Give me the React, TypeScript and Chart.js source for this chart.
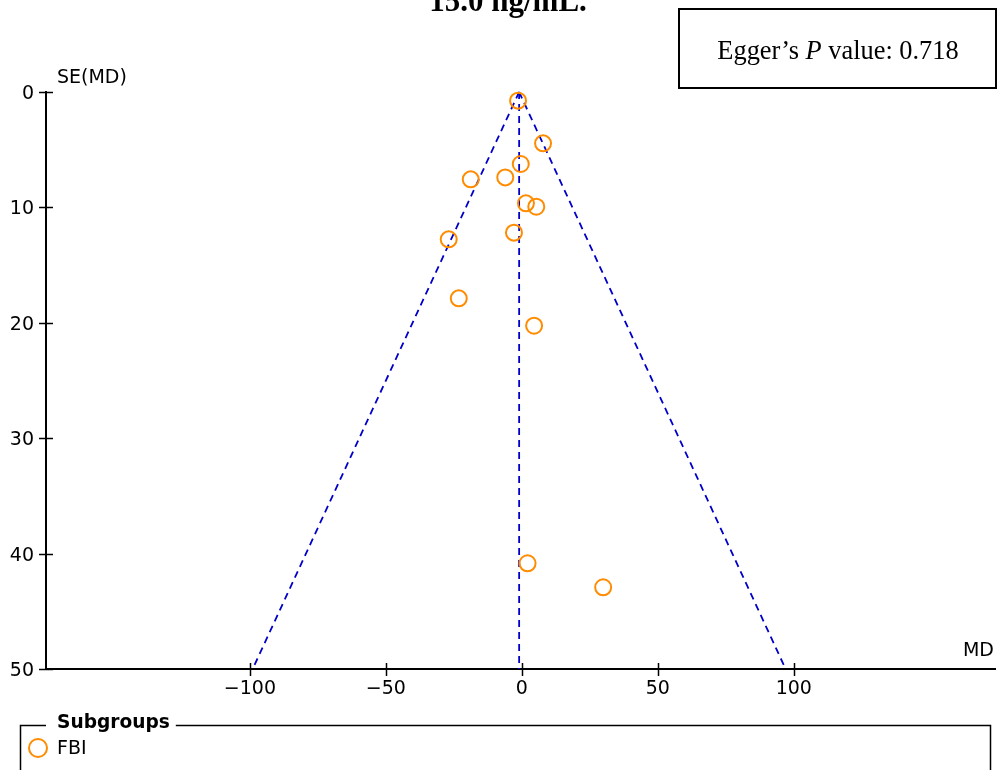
import React, { useEffect, useRef } from "react";
import { Chart, registerables } from "chart.js";

Chart.register(...registerables);

// ---- Data ----
const titleText = "15.0 ng/mL.";
const eggerPrefix = "Egger’s ";
const eggerItalic = "P";
const eggerSuffix = " value: 0.718";
const legendTitle = "Subgroups";
const subgroupNames = ["FBI"];
const xAxisLabel = "MD";
const yAxisLabel = "SE(MD)";

const mdValues = [-1.4, 7.8, -0.4, -18.8, -6.1, 1.5, 5.3, -2.9, -26.9, -23.2, 4.5, 2.1, 29.9];
const seValues = [0.75, 4.45, 6.24, 7.57, 7.4, 9.65, 9.94, 12.19, 12.77, 17.88, 20.25, 40.84, 42.92];

const xTickValues = [-100, -50, 0, 50, 100];
const yTickValues = [0, 10, 20, 30, 40, 50];
const xMin = -175;
const xMax = 174;
const seMin = 0;
const seMax = 50;
const pooledMD = -1.0;
const zCrit = 1.96;

// ---- Styles ----
const ORANGE = "#FF8C00";
const BLUE = "#0000C8";
const SANS = "'DejaVu Sans', sans-serif";
const SERIF = "'Liberation Serif', 'Times New Roman', serif";

const fmt = (v: number) => String(v).replace("-", "\u2212");

const decorPlugin = {
  id: "decor",
  afterDraw(chart: any) {
    const ctx = chart.ctx as CanvasRenderingContext2D;
    const xs = chart.scales.x;
    const ys = chart.scales.y;
    const area = chart.chartArea;
    ctx.save();
    ctx.strokeStyle = "#000";
    ctx.fillStyle = "#000";
    ctx.lineWidth = 1.5;
    // crossing tick marks
    xs.ticks.forEach((t: any) => {
      const px = Math.round(xs.getPixelForValue(t.value)) + 0.5;
      ctx.beginPath();
      ctx.moveTo(px, area.bottom - 6);
      ctx.lineTo(px, area.bottom + 7);
      ctx.stroke();
    });
    ys.ticks.forEach((t: any) => {
      const py = Math.round(ys.getPixelForValue(t.value)) + 0.5;
      ctx.beginPath();
      ctx.moveTo(area.left - 7, py);
      ctx.lineTo(area.left + 7, py);
      ctx.stroke();
    });
    // axis titles
    ctx.font = `19px ${SANS}`;
    ctx.textBaseline = "middle";
    ctx.textAlign = "right";
    ctx.fillText(xAxisLabel, area.right - 1, area.bottom - 18);
    ctx.textAlign = "left";
    ctx.fillText(yAxisLabel, area.left + 11, area.top - 14);

    // title
    ctx.font = `bold 31px ${SERIF}`;
    ctx.textAlign = "center";
    ctx.textBaseline = "alphabetic";
    ctx.fillText(titleText, 508, 11);

    // Egger box
    ctx.lineWidth = 2;
    ctx.strokeRect(679, 9, 317, 79);
    const eggerFont = `26.4px ${SERIF}`;
    const eggerItalicFont = `italic 26.4px ${SERIF}`;
    ctx.font = eggerFont;
    const w1 = ctx.measureText(eggerPrefix).width;
    const w3 = ctx.measureText(eggerSuffix).width;
    ctx.font = eggerItalicFont;
    const w2 = ctx.measureText(eggerItalic).width;
    const total = w1 + w2 + w3;
    const x0 = 838 - total / 2;
    const by = 59;
    ctx.textAlign = "left";
    ctx.font = eggerFont;
    ctx.fillText(eggerPrefix, x0, by);
    ctx.font = eggerItalicFont;
    ctx.fillText(eggerItalic, x0 + w1, by);
    ctx.font = eggerFont;
    ctx.fillText(eggerSuffix, x0 + w1 + w2, by);

    // legend box
    ctx.lineWidth = 1.5;
    const lx = 20.5, ly = 725.5, rx = 990.5;
    ctx.font = `bold 18.6px ${SANS}`;
    const tw = ctx.measureText(legendTitle).width;
    ctx.beginPath();
    ctx.moveTo(lx, 780);
    ctx.lineTo(lx, ly);
    ctx.lineTo(46, ly);
    ctx.moveTo(57 + tw + 6, ly);
    ctx.lineTo(rx, ly);
    ctx.lineTo(rx, 780);
    ctx.stroke();
    ctx.textBaseline = "middle";
    ctx.fillText(legendTitle, 57, 723);
    ctx.font = `19px ${SANS}`;
    subgroupNames.forEach((name, i) => {
      const cy = 748 + i * 24;
      ctx.fillStyle = "#000";
      ctx.fillText(name, 57, cy + 1);
      ctx.strokeStyle = ORANGE;
      ctx.lineWidth = 2;
      ctx.beginPath();
      ctx.arc(38, cy, 9, 0, Math.PI * 2);
      ctx.stroke();
    });
    ctx.restore();
  },
};

export default function App() {
  const canvasRef = useRef<HTMLCanvasElement | null>(null);

  useEffect(() => {
    const canvas = canvasRef.current;
    if (!canvas) return;
    const points = mdValues.map((x, i) => ({ x, y: seValues[i] }));
    const leftLine = [
      { x: pooledMD, y: seMin },
      { x: pooledMD - zCrit * seMax, y: seMax },
    ];
    const rightLine = [
      { x: pooledMD, y: seMin },
      { x: pooledMD + zCrit * seMax, y: seMax },
    ];
    const midLine = [
      { x: pooledMD, y: seMin },
      { x: pooledMD, y: seMax },
    ];
    const lineDs = (data: any[]) => ({
      data,
      showLine: true,
      borderColor: BLUE,
      borderWidth: 1.8,
      borderDash: [7, 5],
      pointRadius: 0,
      fill: false,
      clip: false,
    });
    const chart = new Chart(canvas, {
      type: "scatter",
      data: {
        datasets: [
          {
            data: points,
            pointRadius: 8,
            pointBorderWidth: 2,
            borderColor: ORANGE,
            backgroundColor: "rgba(0,0,0,0)",
            pointBackgroundColor: "rgba(0,0,0,0)",
            pointBorderColor: ORANGE,
            showLine: false,
            clip: false,
          } as any,
          lineDs(leftLine),
          lineDs(midLine),
          lineDs(rightLine),
        ],
      },
      options: {
        responsive: false,
        animation: false,
        layout: { autoPadding: false, padding: { left: 0, top: 92, right: 6, bottom: 0 } },
        plugins: {
          legend: { display: false },
          tooltip: { enabled: false },
        },
        scales: {
          x: {
            type: "linear",
            min: xMin,
            max: xMax,
            afterBuildTicks: (s: any) => {
              s.ticks = xTickValues.map((v) => ({ value: v }));
            },
            afterFit: (s: any) => {
              s.height = 101;
              s.paddingLeft = 0;
              s.paddingRight = 0;
            },
            grid: { display: true, drawOnChartArea: false, drawTicks: false },
            border: { display: true, color: "#000", width: 2 },
            ticks: {
              padding: 9,
              color: "#000",
              font: { family: SANS, size: 19 },
              maxRotation: 0,
              autoSkip: false,
              callback: (v: any) => fmt(Number(v)),
            },
          },
          y: {
            type: "linear",
            reverse: true,
            min: seMin,
            max: seMax,
            afterBuildTicks: (s: any) => {
              s.ticks = yTickValues.map((v) => ({ value: v }));
            },
            afterFit: (s: any) => {
              s.width = 46;
              s.paddingTop = 0;
              s.paddingBottom = 0;
            },
            grid: { display: true, drawOnChartArea: false, drawTicks: false },
            border: { display: true, color: "#000", width: 2 },
            ticks: {
              padding: 12,
              labelOffset: 2,
              color: "#000",
              font: { family: SANS, size: 19 },
              autoSkip: false,
              callback: (v: any) => fmt(Number(v)),
            },
          },
        },
      },
      plugins: [decorPlugin],
    } as any);
    return () => chart.destroy();
  }, []);

  return (
    <div
      style={{
        position: "fixed",
        left: 0,
        top: 0,
        width: 1001,
        height: 770,
        background: "#fff",
        overflow: "hidden",
      }}
    >
      <canvas ref={canvasRef} width={1001} height={770} style={{ display: "block" }} />
    </div>
  );
}
